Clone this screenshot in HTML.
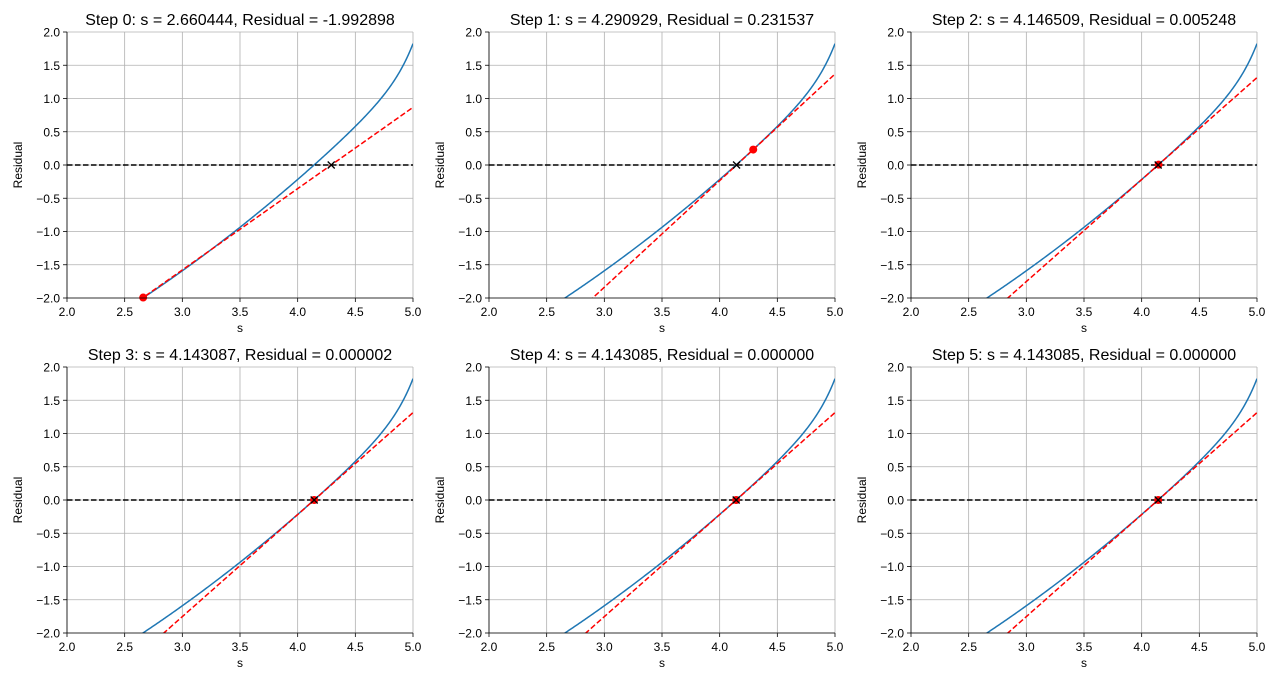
<!DOCTYPE html>
<html><head><meta charset="utf-8"><style>
html,body{margin:0;padding:0;background:#fff;overflow:hidden;width:1280px;height:683px;}
svg{display:block;font-family:"Liberation Sans","DejaVu Sans",sans-serif;}
</style></head><body>
<svg id="c" width="1280" height="683" viewBox="0 0 1280 683" xmlns="http://www.w3.org/2000/svg"></svg>
<script>
const svg=document.getElementById('c');
let out='';
function f(s){const d=s-4.143085;return 1.54*d+0.13*d*d+0.41*Math.exp((s-5)/0.15);}
const S=[2.660444,4.290929,4.146509,4.143087,4.143085,4.143085,4.143085];
const R=["-1.992898","0.231537","0.005248","0.000002","0.000000","0.000000"];
const Rv=[-1.992898,0.231537,0.005248,0.000002,0,0];
const slopes=[-Rv[0]/(S[1]-S[0]),-Rv[1]/(S[2]-S[1]),-Rv[2]/(S[3]-S[2]),1.534,1.534,1.534];
const lefts=[67,489,911],tops=[32,367],W=346,H=266;
for(let k=0;k<6;k++){
 const L=lefts[k%3],T=tops[Math.floor(k/3)];
 const X=s=>L+(s-2)/3*W, Y=v=>T+(2-v)/4*H;
 out+=`<clipPath id="cp${k}"><rect x="${L}" y="${T}" width="${W}" height="${H}"/></clipPath>`;
 for(let i=0;i<=6;i++){const x=X(2+i*0.5);out+=`<line x1="${x}" y1="${T}" x2="${x}" y2="${T+H}" stroke="#b0b0b0" stroke-width="0.8"/>`;
  out+=`<line x1="${x}" y1="${T+H}" x2="${x}" y2="${T+H+4}" stroke="#000" stroke-width="0.8"/>`;
  out+=`<text x="${x}" y="${T+H+18}" font-size="12" text-anchor="middle">${(2+i*0.5).toFixed(1)}</text>`;}
 for(let i=0;i<=8;i++){const v=-2+i*0.5,y=Y(v);out+=`<line x1="${L}" y1="${y}" x2="${L+W}" y2="${y}" stroke="#b0b0b0" stroke-width="0.8"/>`;
  out+=`<line x1="${L-4}" y1="${y}" x2="${L}" y2="${y}" stroke="#000" stroke-width="0.8"/>`;
  out+=`<text x="${L-7}" y="${y+4.5}" font-size="12" text-anchor="end">${v.toFixed(1).replace('-','−')}</text>`;}
 let p='';for(let i=0;i<=300;i++){const s=2+3*i/300;p+=(i?'L':'M')+X(s).toFixed(2)+' '+Y(f(s)).toFixed(2);}
 out+=`<g clip-path="url(#cp${k})"><path d="${p}" fill="none" stroke="#1f77b4" stroke-width="1.5"/>`;
 const m=slopes[k],s0=S[k],f0=Rv[k];
 out+=`<line x1="${X(2)}" y1="${Y(f0+m*(2-s0))}" x2="${X(5)}" y2="${Y(f0+m*(5-s0))}" stroke="#ff0000" stroke-width="1.5" stroke-dasharray="5.5,2.5"/>`;
 out+=`<line x1="${L}" y1="${Y(0)}" x2="${L+W}" y2="${Y(0)}" stroke="#000" stroke-width="1.5" stroke-dasharray="5.5,2.5"/></g>`;
 out+=`<circle cx="${X(s0)}" cy="${Y(f0)}" r="4" fill="#ff0000"/>`;
 const xx=X(S[k+1]),yy=Y(0);
 out+=`<path d="M${xx-3.5} ${yy-3.5}L${xx+3.5} ${yy+3.5}M${xx-3.5} ${yy+3.5}L${xx+3.5} ${yy-3.5}" stroke="#000" stroke-width="1.3"/>`;
 out+=`<line x1="${L}" y1="${T}" x2="${L}" y2="${T+H}" stroke="#000" stroke-width="0.8"/><line x1="${L}" y1="${T+H}" x2="${L+W}" y2="${T+H}" stroke="#000" stroke-width="0.8"/>`;
 out+=`<text x="${L+W/2}" y="${T-7}" font-size="16" text-anchor="middle">Step ${k}: s = ${S[k].toFixed(6)}, Residual = ${R[k]}</text>`;
 out+=`<text x="${L+W/2}" y="${T+H+34}" font-size="12" text-anchor="middle">s</text>`;
 out+=`<text transform="translate(${L-45},${T+H/2}) rotate(-90)" font-size="12" text-anchor="middle">Residual</text>`;
}
svg.innerHTML=out;
</script>
</body></html>
